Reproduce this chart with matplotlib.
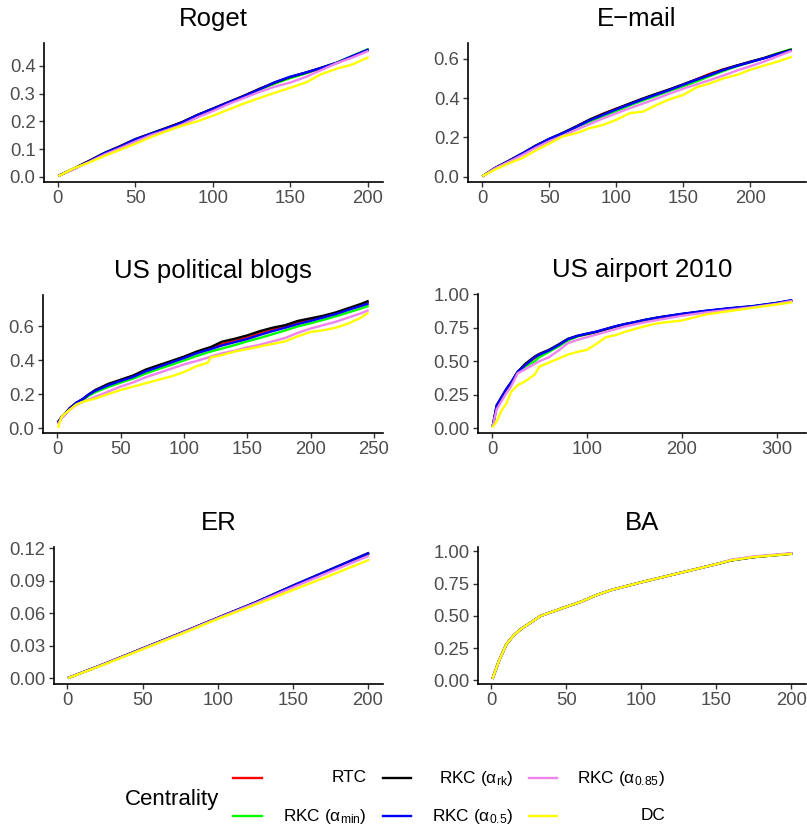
import matplotlib
matplotlib.use("Agg")
import matplotlib.pyplot as plt
from matplotlib.lines import Line2D
import numpy as np

plt.rcParams['font.family'] = ['Liberation Sans', 'DejaVu Sans']
plt.rcParams['mathtext.fontset'] = 'custom'
plt.rcParams['mathtext.rm'] = 'Liberation Sans'
plt.rcParams['mathtext.it'] = 'Liberation Sans:italic'

series_names = ['RTC', 'RKC (α$_{\\mathregular{min}}$)', 'RKC (α$_{\\mathregular{rk}}$)',
                'RKC (α$_{\\mathregular{0.5}}$)', 'RKC (α$_{\\mathregular{0.85}}$)', 'DC']
series_colors = ['#FF0000', '#00FF00', '#000000', '#0000FF', '#EE82EE', '#FFFF00']

# ---- Roget ----
roget_x = [1, 10, 20, 30, 40, 50, 60, 70, 80, 90, 100, 110, 120, 130, 140, 150, 160, 170, 180, 190, 200]
roget_rtc = [0.005, 0.028, 0.056, 0.084, 0.108, 0.134, 0.155, 0.176, 0.196, 0.222, 0.245, 0.268, 0.291, 0.316, 0.338, 0.358, 0.374, 0.392, 0.411, 0.434, 0.456]
roget_min = [0.005, 0.028, 0.055, 0.084, 0.107, 0.133, 0.155, 0.175, 0.195, 0.221, 0.244, 0.267, 0.290, 0.314, 0.336, 0.356, 0.373, 0.393, 0.412, 0.436, 0.460]
roget_rk = [0.005, 0.029, 0.057, 0.086, 0.110, 0.136, 0.156, 0.176, 0.197, 0.223, 0.246, 0.269, 0.292, 0.317, 0.340, 0.360, 0.376, 0.393, 0.411, 0.434, 0.457]
roget_05 = [0.005, 0.028, 0.055, 0.085, 0.108, 0.135, 0.155, 0.175, 0.195, 0.222, 0.245, 0.268, 0.290, 0.315, 0.341, 0.361, 0.376, 0.393, 0.411, 0.435, 0.458]
roget_085 = [0.005, 0.027, 0.053, 0.080, 0.103, 0.127, 0.150, 0.168, 0.188, 0.214, 0.237, 0.262, 0.284, 0.306, 0.325, 0.340, 0.360, 0.385, 0.410, 0.430, 0.453]
roget_dc = [0.004, 0.030, 0.051, 0.075, 0.097, 0.119, 0.143, 0.164, 0.184, 0.200, 0.220, 0.242, 0.264, 0.284, 0.303, 0.321, 0.340, 0.370, 0.390, 0.405, 0.430]

# ---- E-mail ----
email_x = [1, 10, 20, 30, 40, 50, 60, 70, 80, 90, 100, 110, 120, 130, 140, 150, 160, 170, 180, 190, 200, 210, 220, 230]
email_rtc = [0.005, 0.045, 0.080, 0.117, 0.156, 0.190, 0.221, 0.254, 0.288, 0.320, 0.346, 0.370, 0.396, 0.420, 0.443, 0.468, 0.496, 0.524, 0.546, 0.565, 0.584, 0.603, 0.624, 0.644]
email_min = [0.005, 0.045, 0.080, 0.116, 0.155, 0.189, 0.219, 0.250, 0.280, 0.307, 0.334, 0.362, 0.388, 0.412, 0.437, 0.460, 0.485, 0.512, 0.538, 0.562, 0.582, 0.603, 0.627, 0.648]
email_rk = [0.005, 0.045, 0.081, 0.118, 0.158, 0.192, 0.222, 0.255, 0.290, 0.318, 0.345, 0.372, 0.398, 0.422, 0.445, 0.470, 0.495, 0.520, 0.545, 0.566, 0.585, 0.603, 0.625, 0.645]
email_05 = [0.005, 0.045, 0.080, 0.118, 0.156, 0.192, 0.221, 0.252, 0.286, 0.314, 0.342, 0.368, 0.394, 0.418, 0.442, 0.468, 0.494, 0.518, 0.543, 0.564, 0.583, 0.602, 0.622, 0.642]
email_085 = [0.005, 0.043, 0.076, 0.110, 0.147, 0.180, 0.208, 0.238, 0.267, 0.296, 0.322, 0.348, 0.372, 0.397, 0.423, 0.448, 0.470, 0.492, 0.515, 0.540, 0.562, 0.585, 0.612, 0.638]
email_dc = [0.005, 0.037, 0.068, 0.094, 0.133, 0.168, 0.204, 0.221, 0.246, 0.263, 0.289, 0.323, 0.331, 0.365, 0.394, 0.416, 0.455, 0.475, 0.500, 0.518, 0.544, 0.565, 0.585, 0.608]

# ---- US political blogs ----
blogs_x = [1, 3, 5, 10, 15, 20, 25, 30, 40, 50, 60, 70, 80, 90, 100, 110, 119, 121, 130, 140, 150, 160, 170, 180, 190, 200, 210, 220, 230, 240, 245]
blogs_rtc = [0.040, 0.060, 0.076, 0.118, 0.148, 0.170, 0.198, 0.222, 0.256, 0.282, 0.308, 0.342, 0.368, 0.392, 0.418, 0.446, 0.466, 0.470, 0.495, 0.512, 0.532, 0.556, 0.578, 0.596, 0.620, 0.637, 0.654, 0.675, 0.700, 0.724, 0.738]
blogs_min = [0.040, 0.060, 0.074, 0.116, 0.145, 0.165, 0.192, 0.212, 0.242, 0.268, 0.292, 0.322, 0.348, 0.372, 0.398, 0.424, 0.446, 0.450, 0.468, 0.488, 0.510, 0.530, 0.552, 0.574, 0.598, 0.616, 0.636, 0.657, 0.680, 0.703, 0.716]
blogs_rk = [0.040, 0.060, 0.076, 0.120, 0.150, 0.170, 0.200, 0.225, 0.260, 0.285, 0.310, 0.345, 0.370, 0.395, 0.420, 0.450, 0.472, 0.476, 0.508, 0.525, 0.545, 0.570, 0.590, 0.605, 0.630, 0.645, 0.660, 0.680, 0.705, 0.730, 0.745]
blogs_05 = [0.040, 0.062, 0.078, 0.118, 0.150, 0.172, 0.200, 0.220, 0.252, 0.278, 0.302, 0.335, 0.360, 0.386, 0.412, 0.440, 0.460, 0.464, 0.486, 0.505, 0.524, 0.548, 0.570, 0.590, 0.612, 0.630, 0.650, 0.670, 0.695, 0.718, 0.730]
blogs_085 = [0.030, 0.055, 0.070, 0.110, 0.138, 0.155, 0.170, 0.185, 0.215, 0.245, 0.270, 0.300, 0.325, 0.350, 0.375, 0.395, 0.415, 0.420, 0.440, 0.455, 0.475, 0.490, 0.510, 0.530, 0.560, 0.585, 0.605, 0.625, 0.650, 0.675, 0.690]
blogs_dc = [0.010, 0.060, 0.080, 0.110, 0.140, 0.155, 0.165, 0.175, 0.200, 0.225, 0.245, 0.265, 0.285, 0.305, 0.330, 0.365, 0.385, 0.415, 0.430, 0.450, 0.465, 0.480, 0.495, 0.510, 0.540, 0.565, 0.575, 0.590, 0.615, 0.650, 0.675]

# ---- US airport 2010 ----
air_x = [1, 5, 10, 15, 20, 27, 35, 45, 50, 60, 70, 80, 90, 100, 110, 120, 130, 140, 150, 160, 175, 200, 225, 250, 275, 300, 315]
air_rtc = [0.02, 0.16, 0.22, 0.28, 0.33, 0.42, 0.47, 0.525, 0.545, 0.578, 0.618, 0.662, 0.688, 0.703, 0.720, 0.740, 0.760, 0.775, 0.790, 0.805, 0.825, 0.852, 0.875, 0.893, 0.910, 0.935, 0.955]
air_min = [0.02, 0.16, 0.22, 0.28, 0.33, 0.42, 0.46, 0.500, 0.530, 0.570, 0.610, 0.655, 0.685, 0.702, 0.718, 0.738, 0.758, 0.775, 0.790, 0.805, 0.825, 0.852, 0.875, 0.893, 0.912, 0.937, 0.953]
air_rk = [0.02, 0.17, 0.23, 0.29, 0.34, 0.42, 0.48, 0.535, 0.555, 0.585, 0.625, 0.668, 0.690, 0.705, 0.720, 0.740, 0.760, 0.778, 0.792, 0.808, 0.828, 0.853, 0.875, 0.895, 0.910, 0.935, 0.952]
air_05 = [0.02, 0.17, 0.23, 0.29, 0.34, 0.42, 0.47, 0.530, 0.550, 0.580, 0.620, 0.665, 0.690, 0.707, 0.722, 0.742, 0.762, 0.778, 0.792, 0.808, 0.828, 0.855, 0.878, 0.897, 0.913, 0.937, 0.956]
air_085 = [0.02, 0.14, 0.20, 0.26, 0.31, 0.41, 0.44, 0.480, 0.500, 0.530, 0.580, 0.635, 0.660, 0.680, 0.700, 0.720, 0.740, 0.760, 0.775, 0.790, 0.810, 0.840, 0.865, 0.885, 0.905, 0.930, 0.950]
air_dc = [0.01, 0.05, 0.13, 0.18, 0.27, 0.32, 0.35, 0.400, 0.460, 0.490, 0.520, 0.550, 0.570, 0.585, 0.630, 0.680, 0.695, 0.720, 0.740, 0.760, 0.785, 0.805, 0.850, 0.875, 0.900, 0.925, 0.940]

# ---- ER ----
er_x = [1, 25, 50, 75, 100, 125, 150, 175, 200]
er_rtc = [0.0006, 0.0135, 0.0275, 0.0414, 0.0557, 0.0698, 0.0850, 0.0998, 0.1148]
er_min = [0.0006, 0.0135, 0.0275, 0.0414, 0.0556, 0.0697, 0.0848, 0.0995, 0.1145]
er_rk = [0.0006, 0.0135, 0.0276, 0.0416, 0.0559, 0.0701, 0.0856, 0.1005, 0.1155]
er_05 = [0.0006, 0.0135, 0.0275, 0.0415, 0.0558, 0.0700, 0.0855, 0.1004, 0.1153]
er_085 = [0.0006, 0.0134, 0.0273, 0.0412, 0.0555, 0.0693, 0.0840, 0.0985, 0.1128]
er_dc = [0.0005, 0.0130, 0.0268, 0.0405, 0.0548, 0.0680, 0.0815, 0.0950, 0.1090]

# ---- BA ----
ba_x = [1, 5, 10, 15, 20, 33, 50, 60, 70, 80, 100, 125, 150, 160, 175, 200]
ba_rtc = [0.02, 0.15, 0.28, 0.35, 0.40, 0.50, 0.57, 0.61, 0.66, 0.70, 0.76, 0.83, 0.90, 0.93, 0.955, 0.980]
ba_min = [0.02, 0.15, 0.28, 0.35, 0.40, 0.50, 0.57, 0.61, 0.66, 0.70, 0.76, 0.83, 0.90, 0.93, 0.955, 0.980]
ba_rk = [0.02, 0.15, 0.28, 0.35, 0.40, 0.50, 0.57, 0.61, 0.66, 0.70, 0.76, 0.83, 0.90, 0.93, 0.955, 0.982]
ba_05 = [0.02, 0.15, 0.28, 0.35, 0.40, 0.50, 0.57, 0.61, 0.66, 0.70, 0.76, 0.83, 0.90, 0.93, 0.955, 0.982]
ba_085 = [0.02, 0.15, 0.28, 0.35, 0.40, 0.50, 0.57, 0.61, 0.66, 0.70, 0.76, 0.83, 0.90, 0.935, 0.960, 0.985]
ba_dc = [0.02, 0.15, 0.28, 0.35, 0.40, 0.50, 0.57, 0.61, 0.66, 0.70, 0.76, 0.83, 0.90, 0.93, 0.955, 0.980]

panels = [
    dict(title='Roget', x=roget_x, ys=[roget_rtc, roget_min, roget_rk, roget_05, roget_085, roget_dc],
         xticks=[0, 50, 100, 150, 200], yticks=[0.0, 0.1, 0.2, 0.3, 0.4], fmt='{:.1f}',
         box=(44, 43, 383, 182)),
    dict(title='E\u2212mail', x=email_x, ys=[email_rtc, email_min, email_rk, email_05, email_085, email_dc],
         xticks=[0, 50, 100, 150, 200], yticks=[0.0, 0.2, 0.4, 0.6], fmt='{:.1f}',
         box=(468, 43, 806, 182)),
    dict(title='US political blogs', x=blogs_x, ys=[blogs_rtc, blogs_min, blogs_rk, blogs_05, blogs_085, blogs_dc],
         xticks=[0, 50, 100, 150, 200, 250], yticks=[0.0, 0.2, 0.4, 0.6], fmt='{:.1f}',
         box=(43, 295, 383, 433)),
    dict(title='US airport 2010', x=air_x, ys=[air_rtc, air_min, air_rk, air_05, air_085, air_dc],
         xticks=[0, 100, 200, 300], yticks=[0.0, 0.25, 0.5, 0.75, 1.0], fmt='{:.2f}',
         box=(478, 294, 806, 433)),
    dict(title='ER', x=er_x, ys=[er_rtc, er_min, er_rk, er_05, er_085, er_dc],
         xticks=[0, 50, 100, 150, 200], yticks=[0.0, 0.03, 0.06, 0.09, 0.12], fmt='{:.2f}',
         box=(54, 547, 383, 684)),
    dict(title='BA', x=ba_x, ys=[ba_rtc, ba_min, ba_rk, ba_05, ba_085, ba_dc],
         xticks=[0, 50, 100, 150, 200], yticks=[0.0, 0.25, 0.5, 0.75, 1.0], fmt='{:.2f}',
         box=(478, 547, 806, 684)),
]

W, H = 807, 827
fig = plt.figure(figsize=(W / 100, H / 100), dpi=100)

for p in panels:
    l, t, r, b = p['box']
    ax = fig.add_axes([l / W, 1 - b / H, (r - l) / W, (b - t) / H])
    x = np.array(p['x'], dtype=float)
    for y, c in zip(p['ys'], series_colors):
        ax.plot(x, y, color=c, lw=1.7, solid_joinstyle='round')
    allv = np.concatenate([np.array(y, dtype=float) for y in p['ys']])
    ymin, ymax = allv.min(), allv.max()
    xr = x.max() - x.min()
    yr = ymax - ymin
    ax.set_xlim(x.min() - 0.05 * xr, x.max() + 0.05 * xr)
    ax.set_ylim(ymin - 0.05 * yr, ymax + 0.05 * yr)
    ax.set_xticks(p['xticks'])
    ax.set_xticklabels([str(v) for v in p['xticks']])
    ax.set_yticks(p['yticks'])
    ax.set_yticklabels([p['fmt'].format(v) for v in p['yticks']])
    for s in ['top', 'right']:
        ax.spines[s].set_visible(False)
    for s in ['left', 'bottom']:
        ax.spines[s].set_linewidth(1.2)
        ax.spines[s].set_color('black')
    ax.tick_params(axis='both', length=3.6, width=1.0, color='#333333',
                   labelsize=13.3, labelcolor='#4D4D4D', pad=2.5)
    ax.set_title(p['title'], fontsize=18.5, pad=12, color='black')

# legend (ggplot-style: title on left, 3 columns x 2 rows, labels right-aligned)
fig.text(125 / W, 1 - 799 / H, 'Centrality', fontsize=16, ha='left', va='center')
key_x = [(233, 262), (383, 411), (529, 557)]
text_right = [367, 513, 665]
row_y = [778, 816]
for i, (name, c) in enumerate(zip(series_names, series_colors)):
    col, row = i // 2, i % 2
    x0, x1 = key_x[col]
    yy = 1 - row_y[row] / H
    fig.add_artist(Line2D([x0 / W, x1 / W], [yy, yy], color=c, lw=1.7, transform=fig.transFigure))
    fig.text(text_right[col] / W, yy, name, fontsize=12.4, ha='right', va='center')

fig.savefig('out.png', dpi=100)
